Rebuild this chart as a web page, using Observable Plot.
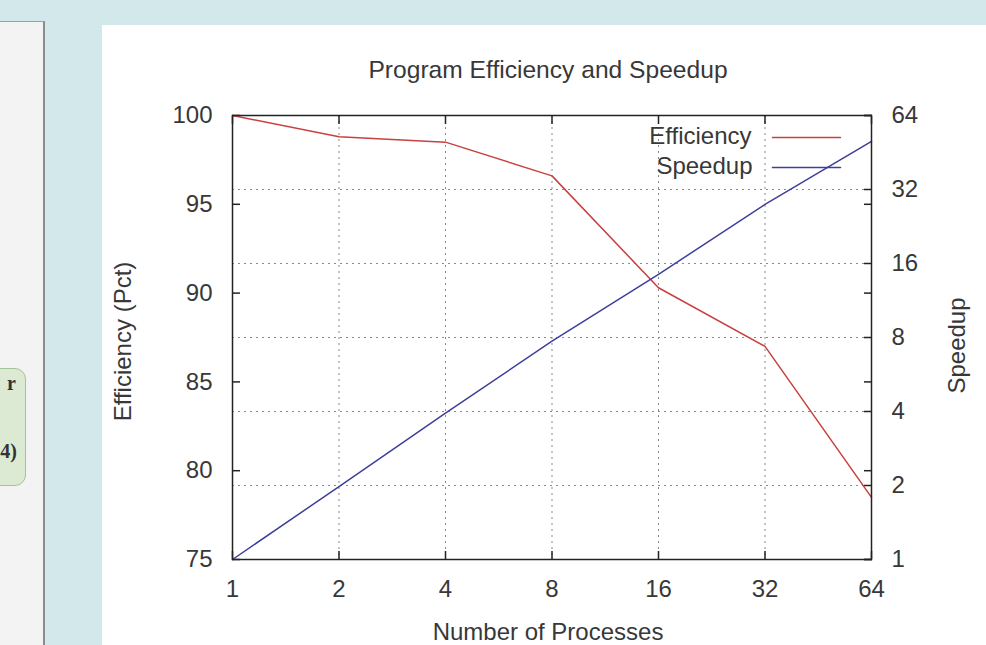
<!DOCTYPE html>
<html>
<head>
<meta charset="utf-8">
<script src="https://cdn.jsdelivr.net/npm/d3@7"></script>
<script src="https://cdn.jsdelivr.net/npm/@observablehq/plot@0.6"></script>
<style>
  html, body { margin: 0; padding: 0; }
  body { width: 986px; height: 645px; background: #d2e8eb; position: relative; overflow: hidden; font-family: "Liberation Sans", Arial, sans-serif; }
  #leftpanel { position: absolute; left: 0; top: 21px; width: 43px; height: 640px; background: #f3f3f3; border-top: 1px solid #a0a0a0; border-right: 2px solid #8c8c8c; }
  #greenbox { position: absolute; left: -14px; top: 368px; width: 38px; height: 116px; background: #dcead4; border: 1px solid #a6c29a; border-radius: 11px; font-family: "Liberation Serif", serif; font-weight: bold; font-size: 20px; color: #333; }
  #greenbox .t1 { position: absolute; right: 9px; top: 3px; }
  #greenbox .t2 { position: absolute; right: 8px; top: 71px; }
  #chart { position: absolute; left: 102px; top: 25px; width: 884px; height: 620px; background: #ffffff; }
</style>
</head>
<body>
<div id="leftpanel"></div>
<div id="greenbox"><span class="t1">r</span><span class="t2">4)</span></div>
<div id="chart"></div>
<script>
// ---- data ----
const processes = [1, 2, 4, 8, 16, 32, 64];
const efficiency = [100, 98.8, 98.5, 96.6, 90.3, 87.0, 78.5];
const speedup = [1, 1.98, 3.94, 7.73, 14.45, 27.84, 50.24];
const xTicks = [1, 2, 4, 8, 16, 32, 64];
const effTicks = [75, 80, 85, 90, 95, 100];
const speedTicks = [1, 2, 4, 8, 16, 32, 64];
const title = "Program Efficiency and Speedup";
const xLabel = "Number of Processes";
const yLabel = "Efficiency (Pct)";
const y2Label = "Speedup";
const seriesNames = ["Efficiency", "Speedup"];

// ---- mapping of the secondary (log2) axis onto the primary scale ----
const effMin = 75, effMax = 100, spMin = 1, spMax = 64;
const toEff = s => effMin + (Math.log2(s) - Math.log2(spMin)) / (Math.log2(spMax) - Math.log2(spMin)) * (effMax - effMin);
const speedLookup = new Map(speedTicks.map(s => [toEff(s), s]));

const red = "#c8403f";
const blue = "#3e3e9c";
const ink = "#383838";
const gridStyle = {stroke: "#8a8a8a", strokeOpacity: 1, strokeWidth: 1, strokeDasharray: "2,4"};
const tickStyle = {stroke: "#222", strokeWidth: 1.5, tickFormat: () => "", label: null};
const segShape = {draw(context, l) { context.moveTo(0, 0); context.lineTo(0, -l); }};

const chart = Plot.plot({
  width: 884,
  height: 620,
  marginLeft: 130,
  marginRight: 115,
  marginTop: 90,
  marginBottom: 86,
  style: {fontFamily: "'Liberation Sans', Arial, sans-serif", fontSize: "24px", color: ink, background: "white", overflow: "visible"},
  x: {type: "log", base: 2, domain: [1, 64]},
  y: {domain: [effMin, effMax]},
  marks: [
    Plot.gridX(xTicks.slice(1, -1), gridStyle),
    Plot.gridY(speedTicks.slice(1, -1).map(toEff), gridStyle),
    // inward tick marks
    Plot.axisX(xTicks, {anchor: "bottom", tickSize: 8, dy: -8, ...tickStyle}),
    Plot.axisX(xTicks, {anchor: "top", tickSize: 8, dy: 8, ...tickStyle}),
    Plot.axisY(effTicks, {anchor: "left", tickSize: 8, dx: 8, ...tickStyle}),
    Plot.axisY(effTicks, {anchor: "right", tickSize: 8, dx: -8, ...tickStyle}),
    Plot.axisY(speedTicks.map(toEff), {anchor: "right", tickSize: 8, dx: -8, ...tickStyle}),
    // tick labels
    Plot.axisX(xTicks, {anchor: "bottom", tickSize: 0, tickPadding: 20, tickFormat: d => String(d), label: null, fill: ink}),
    Plot.axisY(effTicks, {anchor: "left", tickSize: 0, tickPadding: 20, tickFormat: d => String(d), label: null, fill: ink}),
    Plot.axisY(speedTicks.map(toEff), {anchor: "right", tickSize: 0, tickPadding: 20, tickFormat: v => String(speedLookup.get(v)), label: null, fill: ink}),
    // data
    Plot.line(efficiency, {x: (d, i) => processes[i], y: d => d, stroke: red, strokeWidth: 1.5}),
    Plot.line(speedup, {x: (d, i) => processes[i], y: d => toEff(d), stroke: blue, strokeWidth: 1.5}),
    Plot.frame({stroke: "#222", strokeWidth: 1.5}),
    // legend
    Plot.text([seriesNames[0]], {frameAnchor: "top-right", textAnchor: "end", lineAnchor: "middle", dx: -120, dy: 21, fill: ink}),
    Plot.text([seriesNames[1]], {frameAnchor: "top-right", textAnchor: "end", lineAnchor: "middle", dx: -119, dy: 51, fill: ink}),
    Plot.vector([0], {frameAnchor: "top-right", dx: -31, dy: 22, length: 68, rotate: -90, anchor: "start", shape: segShape, stroke: red, strokeWidth: 1.5}),
    Plot.vector([0], {frameAnchor: "top-right", dx: -31, dy: 52, length: 68, rotate: -90, anchor: "start", shape: segShape, stroke: blue, strokeWidth: 1.5}),
    // titles
    Plot.text([title], {frameAnchor: "top", textAnchor: "middle", lineAnchor: "middle", dy: -45, dx: -4, fontSize: 24.6, fill: ink}),
    Plot.text([xLabel], {frameAnchor: "bottom", textAnchor: "middle", lineAnchor: "middle", dy: 73, dx: -4, fill: ink}),
    Plot.text([yLabel], {frameAnchor: "left", textAnchor: "middle", lineAnchor: "middle", dx: -109, dy: 4, rotate: -90, fill: ink}),
    Plot.text([y2Label], {frameAnchor: "right", textAnchor: "middle", lineAnchor: "middle", dx: 86, dy: 8, rotate: -90, fill: ink})
  ]
});
document.getElementById("chart").appendChild(chart);
</script>
</body>
</html>
